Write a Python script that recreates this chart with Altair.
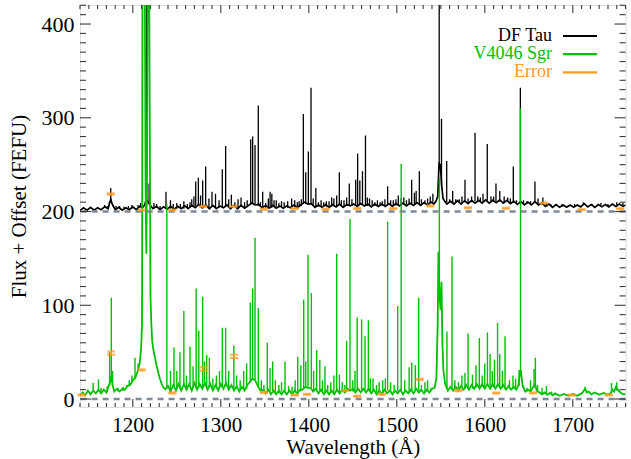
import altair as alt
import pandas as pd

# ---------------- plot geometry ----------------
W, H = 545.6, 402
X_DOM = [1140, 1760]
Y_DOM = [-8.5, 420.3]

BLACK = "#000000"
GREEN = "#00c000"
ORANGE = "#ff9a1f"
GUIDE = "#7d8898"
FRAME = "#3a3a3a"
FONT = "Liberation Serif"

# ---------------- DF Tau (offset by +200) ----------------
df_cont_wave = [1140, 1144, 1148, 1152, 1156, 1160, 1164, 1168, 1172, 1173.5, 1175, 1176.5, 1180, 1184,
                1188, 1192, 1196, 1200, 1204, 1208, 1211, 1213.5, 1215, 1216.5, 1218, 1220.5, 1223, 1227,
                1231, 1235, 1239, 1243, 1247, 1251, 1255, 1259, 1263, 1267, 1271, 1275, 1279, 1283, 1287,
                1291, 1295, 1299, 1303, 1307, 1311, 1315, 1319, 1323, 1327, 1331, 1335, 1339, 1343, 1347,
                1351, 1355, 1359, 1363, 1367, 1371, 1375, 1379, 1383, 1387, 1391, 1395, 1399, 1403, 1407,
                1411, 1415, 1419, 1423, 1427, 1431, 1435, 1439, 1443, 1447, 1451, 1455, 1459, 1463, 1467,
                1471, 1475, 1479, 1483, 1487, 1491, 1495, 1499, 1503, 1507, 1511, 1515, 1519, 1523, 1527,
                1531, 1535, 1539, 1542, 1544.5, 1546.5, 1548, 1549.5, 1551, 1552.5, 1554.5, 1557, 1561,
                1565, 1569, 1573, 1577, 1581, 1585, 1589, 1593, 1597, 1601, 1605, 1609, 1613, 1617, 1621,
                1625, 1629, 1633, 1637, 1641, 1645, 1649, 1653, 1657, 1661, 1665, 1669, 1673, 1677, 1681,
                1685, 1689, 1693, 1697, 1701, 1705, 1709, 1713, 1717, 1721, 1725, 1729, 1733, 1737, 1741,
                1745, 1749, 1753, 1757, 1760]
df_cont_flux = [201, 204, 201.5, 204.5, 201.5, 204, 202, 205, 203, 209, 213, 208, 202, 204.5,
                201.5, 204, 202, 205, 202, 205.5, 204, 207, 212, 212, 209, 206, 203, 205.5,
                202, 205, 202.5, 205.5, 202.5, 205.5, 203, 206, 203, 206.5, 204, 207.5, 204, 207, 203,
                206.5, 203, 206, 204, 207, 203, 206.5, 203, 206.5, 203.5, 206, 209, 207, 207.5, 204,
                206.5, 203.5, 206.5, 203.5, 206, 203.5, 206, 204, 207, 204, 207, 210, 208, 208.5, 204.5,
                207, 204.5, 207.5, 204.5, 207.5, 205, 208, 204.5, 207.5, 206, 208, 205.5, 208.5, 206, 208,
                205, 208, 205.5, 208, 205.5, 208.5, 205.5, 208.5, 206, 209, 206, 209, 206.5, 209.5, 206.5,
                209.5, 207, 210, 208, 211, 216, 251, 250, 228, 214, 211, 208, 211,
                208, 211.5, 208, 211.5, 208.5, 212, 209, 212, 209, 212.5, 209, 212, 209.5, 212.5, 209,
                212, 208.5, 211, 207.5, 210.5, 207, 210, 207, 210.5, 207, 209, 205.5, 208, 204.5, 207.5,
                204.5, 207, 204.5, 207, 204.5, 207, 205, 208.5, 205, 207.5, 204.5, 207.5, 205, 207.5, 205,
                208, 205.5, 208, 205.5, 207]

# emission lines: centre, floor, peak
df_line_wave = [1168, 1171, 1174.9, 1178, 1181, 1185, 1190, 1195, 1199, 1206, 1209, 1215.7, 1218.5,
                1224, 1227, 1231, 1237.7, 1242.8, 1246, 1250, 1254, 1258, 1262, 1265, 1267, 1269.5,
                1271.5, 1274.5, 1277, 1279.4, 1282.8, 1286.5, 1290, 1294, 1298, 1301.7, 1305.5, 1309,
                1312, 1316, 1319.6, 1323, 1327, 1330, 1334, 1336.2, 1338.9, 1342.6, 1345, 1347.6, 1351,
                1354, 1356, 1358, 1360.5, 1363, 1366, 1369, 1372, 1376, 1380.5, 1384, 1387, 1389,
                1391.5, 1393.8, 1396.5, 1399.5, 1402.5, 1405, 1408, 1411, 1414, 1417, 1420, 1423, 1426,
                1428.5, 1431.7, 1434.7, 1437, 1440, 1443, 1446, 1449, 1453.3, 1455.5, 1458, 1461,
                1464.4, 1466.5, 1469, 1472, 1475, 1478, 1481, 1483.6, 1486.5, 1489.6, 1493, 1496, 1499,
                1501.7, 1505, 1508, 1511, 1514, 1516.9, 1520, 1522, 1525.6, 1528, 1532, 1535, 1538,
                1541, 1548.2, 1550.8, 1556.7, 1560, 1563.5, 1567, 1571, 1574, 1577.5, 1581, 1585,
                1588.9, 1592, 1595, 1598, 1602.8, 1607, 1610, 1612.7, 1617, 1622, 1626, 1629, 1632.4,
                1636, 1640.4, 1644, 1648, 1652, 1657, 1660.5, 1666, 1670, 1675, 1681, 1688, 1695, 1702,
                1712, 1722, 1732, 1740, 1750, 1757]
df_line_floor = [204, 204, 210, 205, 203, 203, 202, 203, 203, 204, 205, 210, 209,
                 204, 204, 203, 204, 203, 204, 203, 204, 203, 204, 204, 205, 205,
                 206, 207, 206, 205, 206, 204, 205, 204, 204, 205, 206, 205,
                 204, 205, 204, 205, 204, 205, 208, 208, 208, 206, 205, 205, 204,
                 205, 205, 204, 205, 205, 204, 205, 205, 204, 205, 205, 205, 205,
                 206, 208, 209, 208, 207, 206, 205, 205, 206, 205, 205, 206, 205,
                 206, 206, 207, 206, 205.5, 206, 207, 206, 206.5, 207, 207, 207,
                 207, 206, 206, 206.5, 206, 207, 206, 206, 207, 206.5, 207, 207, 206.5,
                 207, 207.5, 207, 207.5, 207, 207.5, 208, 208, 208, 207.5, 208, 208.5, 209,
                 210, 251, 228, 210, 209.5, 209, 209.5, 209, 209.5, 210, 209.5, 210,
                 211, 210, 210.5, 210.5, 210, 211, 210.5, 211, 210.5, 210, 210.5, 209.5, 209,
                 208.5, 209, 208, 208, 208.5, 209, 208, 207, 206, 206, 206, 205.5, 205.5, 205.5,
                 207, 206, 206.5, 206, 206.5, 206.5]
df_line_peak = [207, 206, 225, 207, 206, 206, 205, 206, 207, 207, 209, 600, 230,
                209, 208, 206, 221, 212, 208, 209, 208, 211, 208, 210, 213, 216,
                232, 236, 217, 233, 248, 214, 221, 219, 212, 245, 270, 213,
                218, 210, 213, 215, 210, 212, 277, 280, 271, 313, 210, 221, 209,
                214, 221, 219, 212, 212, 209, 211, 210, 211, 214, 212, 210, 211,
                213, 304, 242, 264, 332, 214, 225, 210, 212, 210, 211, 211, 215,
                214, 217, 242, 212, 212, 215, 230, 213, 234, 262, 233, 243,
                281, 215, 214, 212, 210, 212, 210, 211, 213, 227, 212, 212, 213,
                217, 214, 215, 212, 214, 234, 220, 222, 243, 213, 212, 214, 216,
                219, 600, 299, 254, 213, 222, 213, 213, 216, 234, 214, 216,
                284, 216, 215, 219, 272, 216, 216, 230, 222, 216, 215, 214, 248,
                212, 332, 212, 211, 211, 232, 214, 215, 209, 208, 208, 208, 207, 208,
                210, 208, 209, 208, 210, 209]

# ---------------- V4046 Sgr ----------------
v_cont_wave = [1140, 1143, 1146, 1149, 1152, 1155, 1158, 1161, 1164, 1167, 1170, 1172, 1174, 1175.5,
               1177, 1179, 1182, 1185, 1188, 1191, 1194, 1197, 1200, 1203, 1206, 1208, 1209.5, 1210.5,
               1211.2, 1212.2, 1213.2, 1214.5, 1215.4, 1216.3, 1217.2, 1218.3, 1219.2, 1220.1, 1221,
               1222, 1223.5, 1225, 1227, 1229, 1231, 1233, 1235, 1237, 1240, 1243, 1246, 1249, 1252,
               1255, 1258, 1261, 1264, 1267, 1270, 1273, 1276, 1279, 1282, 1285, 1288, 1291, 1294,
               1297, 1300, 1303, 1306, 1309, 1312, 1315, 1318, 1321, 1324, 1327, 1330, 1333, 1336,
               1339, 1342, 1345, 1348, 1351, 1354, 1357, 1360, 1363, 1366, 1369, 1372, 1375, 1378,
               1381, 1384, 1387, 1390, 1393, 1396, 1399, 1402, 1405, 1408, 1411, 1414, 1417, 1420,
               1423, 1426, 1429, 1432, 1435, 1438, 1441, 1444, 1447, 1450, 1453, 1456, 1459, 1462,
               1465, 1468, 1471, 1474, 1477, 1480, 1483, 1486, 1489, 1492, 1495, 1498, 1501, 1504,
               1507, 1510, 1513, 1516, 1519, 1522, 1525, 1528, 1531, 1534, 1537, 1540, 1543, 1545,
               1546.5, 1547.3, 1548.5, 1549.8, 1550.8, 1551.8, 1553, 1555, 1558, 1561, 1564, 1567,
               1570, 1573, 1576, 1579, 1582, 1585, 1588, 1591, 1594, 1597, 1600, 1603, 1606, 1609,
               1612, 1615, 1618, 1621, 1624, 1627, 1630, 1633, 1636, 1638.5, 1640, 1641, 1643, 1646,
               1649, 1652, 1655, 1657, 1659, 1662, 1665, 1668, 1671, 1674, 1677, 1680, 1685, 1690,
               1695, 1700, 1705, 1710, 1712, 1714, 1716, 1718, 1721, 1725, 1730, 1735, 1740, 1743,
               1745, 1747, 1749, 1751, 1753, 1756, 1760]
v_cont_flux = [3.5, 7, 4, 9, 5, 9, 6, 10, 6, 10, 7, 12, 18, 24,
               15, 8, 11, 8, 11, 10, 14, 15, 20, 23, 31, 39, 55, 80,
               600, 430, 560, 230, 155, 260, 600, 520, 316, 110, 82,
               62, 52, 45, 36, 28, 21, 16, 12, 10.5, 14, 8, 15, 9, 16,
               9, 16, 10, 16, 9, 17, 10, 16, 11, 17, 10, 16, 9, 15,
               9, 16, 11, 17, 10, 15, 9, 14, 8, 13, 9, 15, 18, 22,
               20, 14, 9, 10, 6, 10, 5, 9, 5, 9, 5, 9, 5, 9,
               5, 9, 6, 10, 10, 13, 12, 12, 8, 11, 6, 10, 5, 9,
               5, 9, 5, 10, 6, 10, 7, 11, 9, 11, 7, 11, 7, 11,
               7, 11, 6, 10, 5, 9, 5, 10, 6, 9, 5, 9, 6, 10,
               5, 9, 6, 10, 6, 11, 7, 10, 6, 10, 7, 11, 12, 22,
               80, 157, 110, 95, 125, 60, 30, 16, 9, 13, 9, 13,
               9, 14, 10, 15, 10, 15, 11, 16, 11, 16, 11, 16, 11, 16,
               11, 16, 11, 15, 10, 14, 10, 13, 10, 16, 30, 30, 14, 8,
               10, 8, 13, 16, 9, 7, 5, 7, 4.5, 6.5, 4, 6, 3.5, 5.5,
               3.5, 5.5, 3.5, 6, 8, 11, 7, 8, 5, 7, 4.5, 6.5, 4.5, 6,
               10, 8, 13, 10, 8, 5.5, 5]

v_line_wave = [1155, 1161, 1164, 1171, 1173.7, 1175.6, 1177, 1183, 1189, 1193, 1196, 1199, 1202.5,
               1206, 1238.7, 1242.8, 1246.8, 1250, 1253.6, 1258, 1261, 1265, 1268.5, 1272, 1275,
               1279.4, 1281.5, 1284, 1287, 1291, 1295, 1298.5, 1301.7, 1305.5, 1309, 1314.8, 1318,
               1322, 1326, 1329.4, 1333.5, 1336.2, 1338.9, 1342.6, 1346, 1349, 1352.8, 1356, 1359,
               1362, 1366, 1369, 1373, 1377, 1381, 1384.5, 1387.4, 1391, 1394.2, 1396.5, 1399.1,
               1402.9, 1405.5, 1409, 1412.5, 1415.5, 1418.4, 1421.5, 1425, 1428.5, 1431.7, 1434.8,
               1438, 1441, 1443, 1446.8, 1450, 1452.5, 1455, 1460, 1463.9, 1467.7, 1470, 1473, 1477,
               1480, 1484, 1487, 1489.6, 1493, 1497, 1501, 1505, 1509, 1514, 1517, 1521, 1524.9,
               1528, 1532, 1535, 1539, 1548.4, 1557, 1562.7, 1566, 1570, 1574, 1577.5, 1581, 1586,
               1590, 1593.8, 1597, 1600, 1603, 1606, 1608.5, 1611, 1614.5, 1617, 1620, 1623, 1628,
               1632, 1635, 1639, 1640.6, 1644, 1648, 1652, 1656, 1657.5, 1660, 1665, 1670, 1676,
               1714, 1744, 1750]
v_line_floor = [9, 9, 7, 8, 14, 20, 15, 8, 8.5, 12, 15, 18, 22,
                30, 11, 9, 13, 11, 12, 14, 11, 13, 11, 13, 12,
                12, 14, 12, 13, 10, 12, 11, 13, 14, 11, 10, 11,
                10, 10, 11, 18, 21, 20, 14, 9, 8, 9, 8, 7,
                7, 6, 8, 7, 7, 7, 7, 8, 8, 11, 12, 13,
                11, 9, 9, 8, 8, 7, 7, 7, 7, 8, 7,
                8, 9, 9, 11, 8, 9, 9, 9, 9, 9, 8, 8, 7,
                8, 7, 8, 9, 7, 7, 8, 8, 7, 7, 8, 9, 9,
                8, 7, 8, 9, 110, 11, 10, 11, 11, 12, 11, 12, 11,
                12, 12, 13, 13, 14, 12, 13, 13, 13, 12, 12, 12, 11,
                11, 11, 14, 30, 12, 8, 9, 12, 14, 9, 6, 6, 5,
                9, 6, 9]
v_line_peak = [17, 21, 12, 14, 50, 108, 30, 12, 13, 15, 20, 25, 44,
               38, 208, 30, 55, 30, 50, 94, 25, 56, 35, 118, 73,
               109, 40, 47, 44, 22, 25, 30, 76, 76, 30, 57, 25,
               20, 30, 38, 103, 118, 172, 97, 20, 15, 60, 33, 40,
               20, 15, 18, 40, 14, 13, 20, 45, 36, 106, 40, 154,
               113, 30, 52, 42, 20, 35, 15, 18, 25, 155, 26,
               18, 15, 62, 192, 20, 30, 87, 85, 67, 84, 22, 22, 15,
               18, 20, 22, 189, 18, 15, 99, 251, 20, 34, 39, 36, 108,
               15, 18, 20, 12, 236, 72, 152, 20, 18, 25, 28, 70, 26,
               36, 65, 25, 38, 71, 48, 30, 42, 81, 48, 30, 67, 20,
               25, 22, 31, 310, 15, 12, 20, 32, 44, 15, 12, 14, 8,
               13, 17, 18]

# ---------------- flux uncertainties ----------------
df_err_wave = [1175, 1210, 1245, 1280, 1314, 1349, 1384, 1419, 1455, 1496, 1538, 1581, 1624, 1667, 1710, 1754]
df_err_flux = [218.7, 201.6, 201.6, 205.5, 205.5, 202.5, 203.2, 202.5, 203.2, 203.2, 206, 204, 203.5, 209, 202, 203]
df_err_size = [0.6, 0.5, 0.5, 0.5, 0.5, 0.5, 0.5, 0.5, 0.5, 0.5, 0.5, 0.5, 0.5, 0.5, 0.5, 0.5]

v_err_wave = [1142, 1175.5, 1210, 1245, 1280, 1315, 1349, 1384, 1398, 1441, 1455, 1483, 1526, 1570, 1613, 1655, 1699, 1741]
v_err_flux = [4.3, 49, 31, 6.5, 32, 45.5, 7, 4.3, 5, 9, 3, 5, 21, 9, 6.4, 6.4, 4.3, 4.3]
v_err_size = [0.6, 1.8, 0.6, 0.6, 1.8, 1.8, 0.6, 0.5, 0.5, 0.6, 0.5, 0.5, 0.6, 0.6, 0.5, 0.5, 0.5, 0.5]

zero_levels = [0, 200]

x_major = [1200, 1300, 1400, 1500, 1600, 1700]
y_major = [0, 100, 200, 300, 400]
x_minor = [v for v in range(1140, 1761, 10) if v % 100 != 0]
y_minor = [v for v in range(10, 421, 10) if v % 100 != 0]

legend_names = ["DF Tau", "V4046 Sgr", "Error"]
legend_colors = [BLACK, GREEN, ORANGE]

# ---------------- tables ----------------
df_cont = pd.DataFrame({"wave": df_cont_wave, "flux": df_cont_flux})
v_cont = pd.DataFrame({"wave": v_cont_wave, "flux": v_cont_flux})
df_lines = pd.DataFrame({"wave": df_line_wave, "flux": df_line_floor, "peak": df_line_peak})
v_lines = pd.DataFrame({"wave": v_line_wave, "flux": v_line_floor, "peak": v_line_peak})
errs = pd.concat([
    pd.DataFrame({"wave": df_err_wave, "val": df_err_flux, "err": df_err_size}),
    pd.DataFrame({"wave": v_err_wave, "val": v_err_flux, "err": v_err_size}),
], ignore_index=True)
errs["flux"] = errs["val"] - errs["err"]
errs["hi"] = errs["val"] + errs["err"]

xs = alt.Scale(domain=X_DOM, nice=False, zero=False)
ys = alt.Scale(domain=Y_DOM, nice=False, zero=False)

AX = alt.Axis(values=x_major, format="d", ticks=False, domain=False, grid=False,
              labelFont=FONT, labelFontSize=21, labelColor="#000", labelPadding=8,
              title="Wavelength (Å)", titleFont=FONT, titleFontSize=21,
              titleFontWeight="normal", titleColor="#000", titlePadding=1)
AY = alt.Axis(values=y_major, format="d", ticks=False, domain=False, grid=False,
              labelFont=FONT, labelFontSize=22, labelColor="#000", labelPadding=6,
              title="Flux + Offset (FEFU)", titleFont=FONT, titleFontSize=21,
              titleFontWeight="normal", titleColor="#000", titlePadding=11)


def xq(field="wave"):
    return alt.X(f"{field}:Q", scale=xs, axis=AX)


def yq(field="flux"):
    return alt.Y(f"{field}:Q", scale=ys, axis=AY)


df_trace = alt.Chart(df_cont).mark_line(color=BLACK, strokeWidth=1.7, clip=True).encode(
    x=xq(), y=yq())
df_spikes = alt.Chart(df_lines).mark_rule(color=BLACK, strokeWidth=1.3, clip=True).encode(
    x=xq(), y=yq(), y2="peak:Q")

v_trace = alt.Chart(v_cont).mark_line(color=GREEN, strokeWidth=1.8, clip=True).encode(
    x=xq(), y=yq())
v_spikes = alt.Chart(v_lines).mark_rule(color=GREEN, strokeWidth=1.4, clip=True).encode(
    x=xq(), y=yq(), y2="peak:Q")

zero_lines = alt.Chart(pd.DataFrame({"flux": zero_levels})).mark_rule(
    color=GUIDE, strokeWidth=2.5, strokeDash=[6, 5]).encode(y=yq())

err_bar = alt.Chart(errs).mark_rule(color=ORANGE, strokeWidth=1.5).encode(
    x=xq(), y=yq(), y2="hi:Q")
err_lo = alt.Chart(errs).mark_tick(color=ORANGE, orient="horizontal", size=8, thickness=2.2).encode(
    x=xq(), y=yq())
err_hi = alt.Chart(errs).mark_tick(color=ORANGE, orient="horizontal", size=8, thickness=2.2).encode(
    x=xq(), y=alt.Y("hi:Q", scale=ys, axis=AY))

# inward ticks on all four sides of the frame
tick_style = dict(color=FRAME, strokeWidth=1.1)
xmaj = alt.Chart(pd.DataFrame({"wave": x_major}))
xmin = alt.Chart(pd.DataFrame({"wave": x_minor}))
ymaj = alt.Chart(pd.DataFrame({"flux": y_major}))
ymin = alt.Chart(pd.DataFrame({"flux": y_minor}))
ticks = [
    xmaj.mark_rule(**tick_style).encode(x=xq(), y=alt.value(H), y2=alt.value(H - 8)),
    xmaj.mark_rule(**tick_style).encode(x=xq(), y=alt.value(0), y2=alt.value(8)),
    xmin.mark_rule(**tick_style).encode(x=xq(), y=alt.value(H), y2=alt.value(H - 4)),
    xmin.mark_rule(**tick_style).encode(x=xq(), y=alt.value(0), y2=alt.value(4)),
    ymaj.mark_rule(**tick_style).encode(y=yq(), x=alt.value(0), x2=alt.value(11)),
    ymaj.mark_rule(**tick_style).encode(y=yq(), x=alt.value(W), x2=alt.value(W - 11)),
    ymin.mark_rule(**tick_style).encode(y=yq(), x=alt.value(0), x2=alt.value(6)),
    ymin.mark_rule(**tick_style).encode(y=yq(), x=alt.value(W), x2=alt.value(W - 6)),
]

# legend in the upper right corner
leg = pd.DataFrame({"name": legend_names, "color": legend_colors, "row": [0, 1, 2]})
leg["ty"] = 36 + leg["row"] * 18.2
leg["ly"] = 31 + leg["row"] * 18.2
legend_text = alt.Chart(leg).mark_text(align="right", baseline="alphabetic", font=FONT, fontSize=18).encode(
    x=alt.value(472), y=alt.Y("ty:Q", scale=None), text="name:N",
    color=alt.Color("color:N", scale=None))
legend_line = alt.Chart(leg).mark_rule(strokeWidth=2.2).encode(
    x=alt.value(483), x2=alt.value(517), y=alt.Y("ly:Q", scale=None),
    color=alt.Color("color:N", scale=None))

chart = alt.layer(
    df_trace, df_spikes, v_trace, v_spikes, zero_lines, err_bar, err_hi, err_lo,
    *ticks, legend_line, legend_text,
).properties(
    width=W, height=H,
    padding={"left": 80, "top": 5, "right": 5, "bottom": 52},
    autosize="none",
).configure_view(stroke=FRAME, strokeWidth=1.5).configure(background="white")

chart.save("out.html", embed_options={"renderer": "svg", "actions": False})
